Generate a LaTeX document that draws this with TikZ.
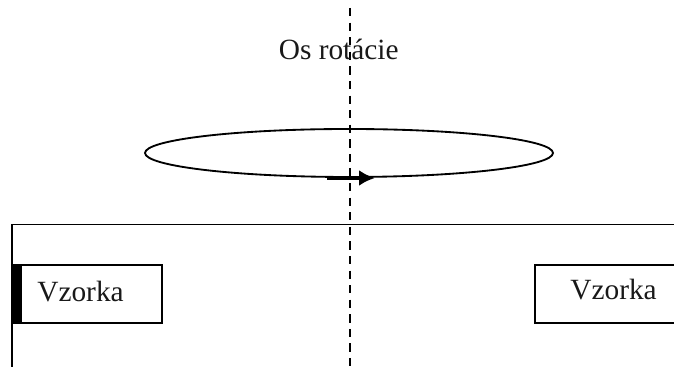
\documentclass[tikz,border=0pt]{standalone}
\usepackage{fontspec}
\setmainfont{Liberation Serif}
\usetikzlibrary{arrows.meta,positioning,shapes.geometric}

\begin{document}
\begin{tikzpicture}[every node/.style={font=\fontsize{16.7}{20}\selectfont}]
  \tikzset{
    wall/.style={draw=black,line width=1.05pt},
    axisline/.style={black,line width=1.2pt,dash pattern=on 4.7pt off 3.6pt},
    lbl/.style={anchor=base west,inner sep=0pt,text=black!90}
  }
  \useasboundingbox (0,0) rectangle (13.48,7.34);
  \coordinate (axtop) at (7.0,7.18);
  \coordinate (axbot) at (7.0,0);
  \coordinate (frbot) at (0.24,0);
  \coordinate (frcorner) at (0.24,2.85);
  \coordinate (frend) at (13.48,2.85);
  \draw[wall] (frbot)--(frcorner)--(frend);
  \draw[axisline] (axtop)--(axbot);
  \node[ellipse,wall,minimum width=8.16cm,minimum height=0.96cm,inner sep=0pt] (orbit) at (6.98,4.28) {};
  \coordinate (arrstart) at (6.54,3.78);
  \coordinate (arrend) at (7.5,3.78);
  \draw[line width=1.8pt,-{Latex[length=0.32cm,width=0.32cm]}] (arrstart)--(arrend);
  % sample holders
  \draw[wall,fill=white] (0.24,0.88) rectangle (3.24,2.04);
  \fill[black] (0.24,0.88) rectangle (0.44,2.04);
  \coordinate (rbtop) at (13.48,2.04);
  \coordinate (rbtl) at (10.7,2.04);
  \coordinate (rbbl) at (10.7,0.88);
  \coordinate (rbbot) at (13.48,0.88);
  \draw[wall] (rbtop)--(rbtl)--(rbbl)--(rbbot);
  \node[lbl] (axlabel) at (5.57,6.14) {Os rotácie};
  \node[lbl] (leftlabel) at (0.74,1.30) {Vzorka};
  \node[lbl] (rightlabel) at (11.40,1.34) {Vzorka};
\end{tikzpicture}
\end{document}
